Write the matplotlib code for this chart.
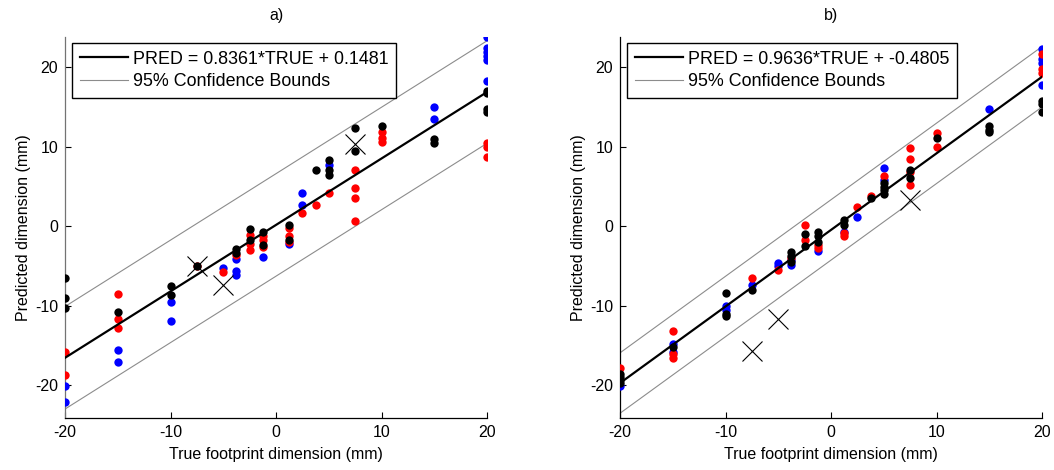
import numpy as np
import matplotlib
matplotlib.use("Agg")
import matplotlib.pyplot as plt

plt.rcParams["font.family"] = ["Liberation Sans", "DejaVu Sans"]
plt.rcParams["axes.unicode_minus"] = False

# ---- panel a) measurements: (true dimension, predicted dimension) ----
a_blue_x = [-20, -20, -15, -15, -10, -10, -5, -3.75, -3.75, -3.75, -1.25, 1.25,
            2.5, 2.5, 5, 15, 15, 20, 20, 20, 20, 20, 20]
a_blue_y = [-20.1, -22.1, -15.6, -17.1, -9.5, -12.0, -5.3, -4.1, -5.7, -6.2, -3.9, -2.3,
            4.2, 2.6, 7.7, 15.0, 13.5, 23.8, 22.4, 21.9, 21.4, 20.9, 18.2]
a_red_x = [-20, -20, -15, -15, -15, -7.5, -5, -3.75, -2.5, -2.5, -2.5, -1.25, -1.25,
           -1.25, 1.25, 1.25, 1.25, 2.5, 3.75, 5, 7.5, 7.5, 7.5, 7.5, 10, 10, 10,
           20, 20, 20]
a_red_y = [-15.8, -18.8, -8.5, -11.7, -12.8, -5.0, -5.8, -3.6, -1.1, -2.2, -3.0, -1.3,
           -1.8, -2.6, -0.2, -1.3, -2.0, 1.7, 2.6, 4.2, 7.1, 4.8, 3.6, 0.6, 11.9, 11.1,
           10.6, 10.5, 9.9, 8.7]
a_black_x = [-20, -20, -20, -15, -10, -10, -7.5, -3.75, -3.75, -2.5, -2.5, -1.25,
             -1.25, 1.25, 1.25, 3.75, 5, 5, 5, 7.5, 7.5, 10, 15, 15, 20, 20, 20, 20]
a_black_y = [-6.5, -9.0, -10.3, -10.8, -7.6, -8.7, -5.0, -2.9, -3.4, -0.4, -1.7, -0.8,
             -2.4, 0.1, -1.8, 7.1, 8.3, 7.1, 6.4, 12.4, 9.5, 12.6, 11.0, 10.4, 17.0,
             16.7, 14.8, 14.3]
a_cross_x = [-7.5, -5, 7.5]
a_cross_y = [-5.0, -7.4, 10.3]
a_slope, a_intercept, a_halfwidth = 0.8361, 0.1481, 6.45

# ---- panel b) measurements ----
b_blue_x = [-20, -15, -15, -10, -10, -7.5, -5, -5, -3.75, -3.75, -1.25, 1.25, 2.5,
            5, 5, 15, 20, 20, 20, 20]
b_blue_y = [-20.1, -14.8, -15.8, -10.1, -10.6, -7.4, -4.7, -5.0, -4.3, -4.9, -3.1,
            -0.7, 1.1, 7.3, 5.8, 14.8, 22.3, 21.0, 20.5, 17.7]
b_red_x = [-20, -15, -15, -15, -7.5, -5, -3.75, -2.5, -2.5, -1.25, -1.25, 1.25, 1.25,
           2.5, 3.75, 5, 7.5, 7.5, 7.5, 7.5, 10, 10, 20, 20, 20]
b_red_y = [-17.9, -13.2, -16.1, -16.6, -6.5, -5.5, -4.0, 0.2, -1.7, -2.4, -2.7, -0.9,
           -1.3, 2.4, 3.8, 6.3, 9.8, 8.4, 6.8, 5.2, 11.7, 9.9, 21.6, 19.8, 19.3]
b_black_x = [-20, -20, -20, -20, -15, -10, -10, -10, -7.5, -3.75, -3.75, -3.75,
             -2.5, -2.5, -1.25, -1.25, -1.25, 1.25, 1.25, 3.75, 5, 5, 5, 5, 7.5,
             7.5, 10, 15, 15, 15, 20, 20, 20]
b_black_y = [-18.6, -19.0, -19.4, -19.8, -15.2, -8.4, -11.0, -11.3, -8.1, -3.2, -3.7,
             -4.5, -1.0, -2.5, -0.8, -1.3, -2.0, 0.8, 0.1, 3.6, 5.4, 4.9, 4.6, 4.1,
             7.1, 6.1, 11.1, 12.6, 12.1, 11.8, 15.8, 15.4, 14.3]
b_cross_x = [-7.5, -5, 7.5]
b_cross_y = [-15.7, -11.7, 3.3]
b_slope, b_intercept, b_halfwidth = 0.9636, -0.4805, 3.8

x_ticks = [-20, -10, 0, 10, 20]
y_ticks = [-20, -10, 0, 10, 20]

W, H = 1054, 470
fig = plt.figure(figsize=(W / 100, H / 100), dpi=100)


def panel(left_px, title, bx, by, rx, ry, kx, ky, cx, cy, slope, intercept, hw,
          yspine_color):
    ax = fig.add_axes([left_px / W, (H - 418) / H, 422 / W, 381 / H])
    ms = 6.0
    ax.plot(bx, by, "o", color=(0, 0, 1), ms=ms, mec="none", zorder=3)
    ax.plot(rx, ry, "o", color=(1, 0, 0), ms=ms, mec="none", zorder=3)
    ax.plot(kx, ky, "o", color="black", ms=ms, mec="none", zorder=3)
    xs = np.array([-20.0, 20.0])
    fit = slope * xs + intercept
    label = f"PRED = {slope:.4f}*TRUE + {intercept:.4f}"
    ax.plot(xs, fit, color="black", lw=1.6, zorder=4, label=label)
    ax.plot(xs, fit + hw, color="0.55", lw=0.8, zorder=2,
            label="95% Confidence Bounds")
    ax.plot(xs, fit - hw, color="0.55", lw=0.8, zorder=2)
    ax.plot(cx, cy, "x", color="black", ms=14, mew=0.8, zorder=5)

    ax.set_xlim(-20, 20)
    ax.set_ylim(-24.15, 23.8)
    ax.set_xticks(x_ticks)
    ax.set_yticks(y_ticks)
    ax.tick_params(direction="in", length=4, width=0.8, labelsize=11.5,
                   top=False, right=False, pad=5)
    for s in ("top", "right"):
        ax.spines[s].set_visible(False)
    ax.spines["bottom"].set_linewidth(0.9)
    ax.spines["left"].set_linewidth(0.9)
    ax.spines["left"].set_color(yspine_color)
    ax.set_title(title, fontsize=11.5, pad=12)
    ax.set_xlabel("True footprint dimension (mm)", fontsize=11.5, labelpad=5)
    ax.set_ylabel("Predicted dimension (mm)", fontsize=11.5, labelpad=3)
    leg = ax.legend(loc="upper left", bbox_to_anchor=(0.0166, 0.984),
                    borderaxespad=0, fontsize=12.9, fancybox=False,
                    framealpha=1, handlelength=2.7, handletextpad=0.3,
                    borderpad=0.42, labelspacing=0.32)
    leg.get_frame().set_edgecolor("black")
    leg.get_frame().set_linewidth(1.0)
    return ax


panel(65, "a)", a_blue_x, a_blue_y, a_red_x, a_red_y, a_black_x, a_black_y,
      a_cross_x, a_cross_y, a_slope, a_intercept, a_halfwidth, "0.45")
panel(620, "b)", b_blue_x, b_blue_y, b_red_x, b_red_y, b_black_x, b_black_y,
      b_cross_x, b_cross_y, b_slope, b_intercept, b_halfwidth, "black")

fig.savefig("out.png", dpi=100)
